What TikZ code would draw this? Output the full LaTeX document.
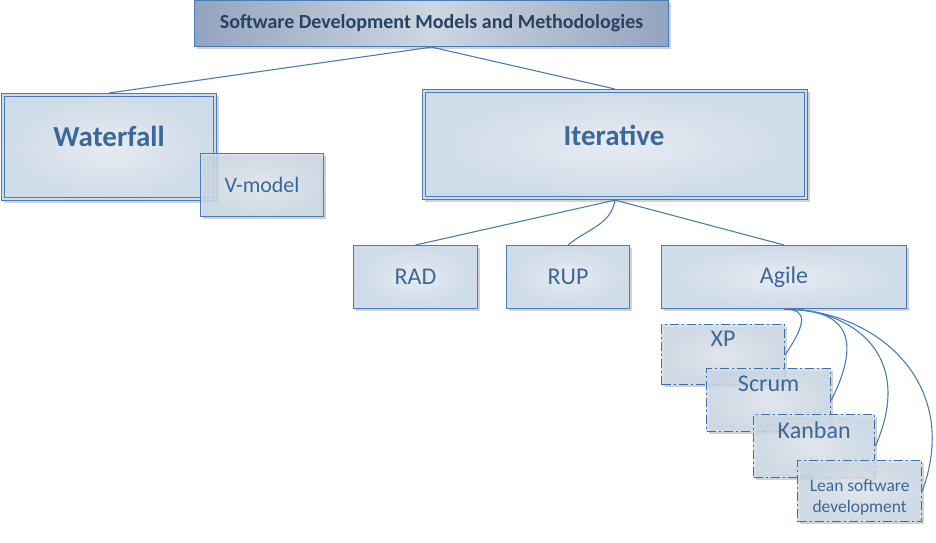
\documentclass[tikz,border=0pt]{standalone}
\usepackage{fontspec}
\setmainfont{Carlito}
\usetikzlibrary{shadows,calc}
\definecolor{bord}{RGB}{74,124,182}
\definecolor{dbord}{RGB}{62,112,172}
\definecolor{txt}{RGB}{58,104,152}
\definecolor{fin}{RGB}{230,235,241}
\definecolor{fout}{RGB}{206,219,232}
\definecolor{topdark}{RGB}{146,164,190}
\definecolor{toplight}{RGB}{205,214,226}
\definecolor{toptxt}{RGB}{40,66,98}
\tikzset{
  box/.style={draw=bord, line width=1.1pt, inner color=fin, outer color=fout,
    anchor=north west, inner sep=0pt, text=txt, align=center,
    drop shadow={shadow xshift=2pt, shadow yshift=-2pt, opacity=0.18, fill=black}},
  ddbox/.style={box, draw=dbord, fill opacity=0.85, text opacity=1, line width=1.3pt,
    dash pattern=on 9pt off 3pt on 2pt off 3pt},
  inline/.style={draw=bord, line width=1pt},
  conn/.style={draw=bord, line width=1.1pt},
  big/.style={font=\fontsize{29}{31}\selectfont\bfseries, text=txt},
  mid/.style={font=\fontsize{24}{26}\selectfont, text=txt},
}
\begin{document}
\begin{tikzpicture}[x=1pt,y=1pt]
\useasboundingbox (0,0) rectangle (936,-542);
% top
\node[box, left color=topdark, right color=topdark, middle color=toplight,
  minimum width=474pt, minimum height=46pt, text=toptxt,
  font=\fontsize{20}{22}\selectfont\bfseries] (top) at (194,0)
  {Software Development Models and Methodologies};
% waterfall
\node[box, minimum width=215pt, minimum height=107pt,
  label={[big, yshift=11pt]center:Waterfall}] (wf) at (1,-93) {};
\draw[inline] ($(wf.north west)+(3.5,-3.5)$) rectangle ($(wf.south east)+(-3.5,3.5)$);
\node[box, fill opacity=0.85, text opacity=1, minimum width=123pt, minimum height=63pt,
  font=\fontsize{22}{24}\selectfont] (vm) at (200,-153) {V-model};
% iterative
\node[box, minimum width=385pt, minimum height=110pt,
  label={[big, yshift=9pt, xshift=-1pt]center:Iterative}] (it) at (422,-89) {};
\draw[inline] ($(it.north west)+(3.5,-3.5)$) rectangle ($(it.south east)+(-3.5,3.5)$);
\node[box, mid, minimum width=124pt, minimum height=63pt] (rad) at (353,-245) {RAD};
\node[box, mid, minimum width=123pt, minimum height=63pt] (rup) at (506,-245) {RUP};
\node[box, mid, minimum width=245pt, minimum height=63pt] (ag) at (661,-245) {Agile};
% agile children
\node[ddbox, minimum width=123pt, minimum height=60pt,
  label={[mid, anchor=north, yshift=-4pt]north:XP}] (xp) at (661,-324) {};
\node[ddbox, minimum width=124pt, minimum height=63pt,
  label={[mid, anchor=north, yshift=-4pt]north:Scrum}] (sc) at (706,-368) {};
\node[ddbox, minimum width=121pt, minimum height=63pt,
  label={[mid, anchor=north, yshift=-4pt]north:Kanban}] (kb) at (753,-414) {};
\node[ddbox, minimum width=124pt, minimum height=61pt,
  label={[font=\fontsize{17.5}{21}\selectfont, text=txt, align=center, yshift=-6pt]center:Lean software\\development}] (ln) at (797,-460) {};
% connectors
\draw[conn] (top.south) -- (wf.north);
\draw[conn] (top.south) -- (it.north);
\draw[conn] (it.south) -- (rad.north);
\draw[conn] (it.south) to[out=-100, in=40] (rup.north);
\draw[conn] (it.south) -- (ag.north);
\draw[conn] (ag.south) .. controls +(25,0) and +(20,30) .. (xp.east);
\draw[conn] (ag.south) .. controls +(55,0) and +(35,70) .. (sc.east);
\draw[conn] (ag.south) .. controls +(70,0) and +(40,90) .. (kb.east);
\draw[conn] (ag.south) .. controls +(90,0) and +(40,110) .. (ln.east);
\end{tikzpicture}
\end{document}
